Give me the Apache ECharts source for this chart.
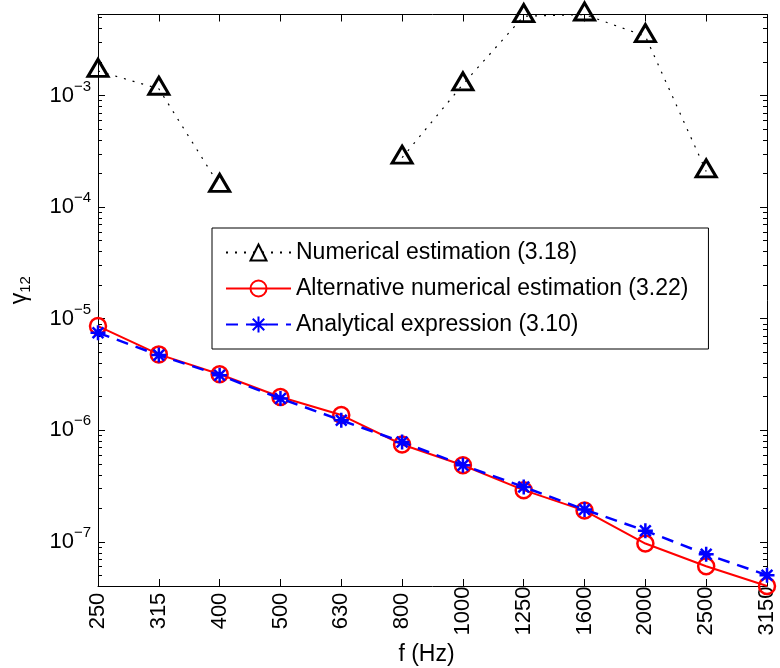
<!DOCTYPE html>
<html>
<head>
<meta charset="utf-8">
<script src="https://cdn.jsdelivr.net/npm/echarts@6/dist/echarts.min.js"></script>
<style>
  html, body { margin: 0; padding: 0; background: #fff; }
  #chart { width: 780px; height: 668px; }
</style>
</head>
<body>
<div id="chart"></div>
<script>
const freqs = ['250', '315', '400', '500', '630', '800', '1000', '1250', '1600', '2000', '2500', '3150']

// gamma_12 values
const numerical = [1.66e-3, 1.15e-3, 1.55e-4, null, null, 2.77e-4, 1.26e-3, 5.14e-3, 5.32e-3, 3.40e-3, 2.09e-4, null]
const alternative = [8.59e-6, 4.79e-6, 3.18e-6, 1.99e-6, 1.37e-6, 7.47e-7, 4.87e-7, 2.91e-7, 1.91e-7, 9.68e-8, 6.05e-8, 4.03e-8]
const analytical = [7.48e-6, 4.72e-6, 3.12e-6, 1.93e-6, 1.23e-6, 7.87e-7, 4.87e-7, 3.11e-7, 1.95e-7, 1.26e-7, 7.76e-8, 5.04e-8]

const yMin = 4.03e-8
const yMax = 5.32e-3
const majorTicks = [1e-7, 1e-6, 1e-5, 1e-4, 1e-3]
const minorTicks = []
for (let e = -8; e <= -3; e++) {
  for (let k = 2; k <= 9; k++) {
    const v = k * Math.pow(10, e)
    if (v > yMin && v < yMax) minorTicks.push(v)
  }
}

const FONT = 'Liberation Sans, Arial, Helvetica, sans-serif'
const starPath = 'path://M0,-1L0,1M-1,0L1,0M-0.72,-0.72L0.72,0.72M-0.72,0.72L0.72,-0.72'

const chart = echarts.init(document.getElementById('chart'))

const decadeLabel = (v) => {
  const e = Math.round(Math.log10(v))
  return '{b|10}{s|\u2212' + (-e) + '}'
}

const logAxis = (position, ticks, len, withLine, withLabel) => ({
  type: 'log',
  logBase: 10,
  position: position,
  min: yMin,
  max: yMax,
  axisLine: { show: withLine, lineStyle: { color: '#000', width: 1 } },
  axisTick: { show: true, inside: true, length: len, customValues: ticks, lineStyle: { color: '#000', width: 1 } },
  axisLabel: withLabel ? {
    show: true,
    customValues: majorTicks,
    margin: 7,
    formatter: decadeLabel,
    color: '#000',
    fontFamily: FONT,
    rich: {
      b: { fontSize: 22, lineHeight: 33, fontFamily: FONT, color: '#000' },
      s: { fontSize: 15, lineHeight: 15, verticalAlign: 'top', fontFamily: FONT, color: '#000' }
    }
  } : { show: false },
  splitLine: { show: false },
  minorTick: { show: false }
})

const option = {
  backgroundColor: '#fff',
  animation: false,
  grid: { left: 98, right: 13, top: 14.5, bottom: 82, containLabel: false, outerBoundsMode: 'none' },
  legend: {
    orient: 'vertical',
    left: 212,
    top: 228,
    padding: [13, 20, 13, 13],
    itemGap: 13,
    itemWidth: 65,
    itemHeight: 20,
    backgroundColor: '#fff',
    borderColor: '#000',
    borderWidth: 1,
    borderRadius: 0,
    textStyle: { fontSize: 23, color: '#000', fontFamily: FONT },
    data: ['Numerical estimation (3.18)', 'Alternative numerical estimation (3.22)', 'Analytical expression (3.10)']
  },
  xAxis: [
    {
      type: 'category',
      data: freqs,
      position: 'bottom',
      boundaryGap: false,
      name: 'f (Hz)',
      nameLocation: 'middle',
      nameGap: 54,
      nameTextStyle: { fontSize: 23, color: '#000', fontFamily: FONT, padding: [0, 12, 0, 0] },
      axisLine: { show: true, lineStyle: { color: '#000', width: 1 } },
      axisTick: { show: true, inside: true, length: 7, lineStyle: { color: '#000' } },
      axisLabel: {
        rotate: 90,
        align: 'center',
        verticalAlign: 'middle',
        margin: 25,
        fontSize: 22,
        color: '#000',
        fontFamily: FONT,
        interval: 0
      },
      splitLine: { show: false }
    },
    {
      type: 'category',
      data: freqs,
      position: 'top',
      boundaryGap: false,
      axisLine: { show: true, lineStyle: { color: '#000', width: 1 } },
      axisTick: { show: true, inside: true, length: 7, interval: 0, lineStyle: { color: '#000' } },
      axisLabel: { show: false },
      splitLine: { show: false }
    }
  ],
  yAxis: [
    Object.assign(logAxis('left', majorTicks, 7, true, true), {
      name: '{g|\u03b3}{n|12}',
      nameLocation: 'middle',
      nameGap: 65,
      nameTextStyle: {
        padding: [0, 0, 0, 20],
        rich: {
          g: { fontSize: 23, lineHeight: 26, fontFamily: FONT, color: '#000' },
          n: { fontSize: 15, lineHeight: 15, verticalAlign: 'bottom', fontFamily: FONT, color: '#000' }
        }
      }
    }),
    logAxis('left', minorTicks, 4, false, false),
    logAxis('right', majorTicks, 7, true, false),
    logAxis('right', minorTicks, 4, false, false)
  ],
  series: [
    {
      name: 'Numerical estimation (3.18)',
      type: 'line',
      data: numerical,
      clip: false,
      symbol: 'triangle',
      symbolSize: [20, 17],
      symbolOffset: [0, -3],
      itemStyle: { color: 'none', borderColor: '#000', borderWidth: 3 },
      lineStyle: { color: '#000', width: 1.2, type: [2, 7] },
      z: 3
    },
    {
      name: 'Alternative numerical estimation (3.22)',
      type: 'line',
      data: alternative,
      clip: false,
      symbol: 'circle',
      symbolSize: 16,
      itemStyle: { color: 'none', borderColor: '#ff0000', borderWidth: 2.5 },
      lineStyle: { color: '#ff0000', width: 2 },
      z: 4
    },
    {
      name: 'Analytical expression (3.10)',
      type: 'line',
      data: analytical,
      clip: false,
      symbol: starPath,
      symbolSize: 15,
      itemStyle: { color: 'none', borderColor: '#0000ff', borderWidth: 2.5 },
      lineStyle: { color: '#0000ff', width: 2.5, type: [12, 8] },
      z: 5
    }
  ]
}

chart.setOption(option)
</script>
</body>
</html>
